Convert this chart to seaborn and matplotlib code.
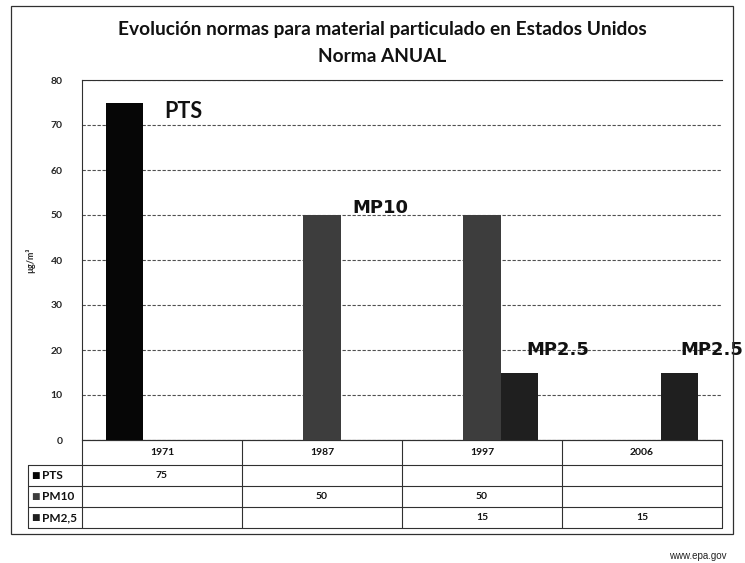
import matplotlib
matplotlib.use("Agg")
import matplotlib.pyplot as plt
from matplotlib.patches import Rectangle
from matplotlib.lines import Line2D
import matplotlib.transforms as mtransforms
import pandas as pd
import seaborn as sns

# Annual particulate-matter standards (µg/m³) in the United States
years = ["1971", "1987", "1997", "2006"]
series = ["PTS", "PM10", "PM2,5"]
pts_values = [75, None, None, None]
pm10_values = [None, 50, 50, None]
pm25_values = [None, None, 15, 15]
bar_labels = ["PTS", "MP10", "MP2.5", "MP2.5"]
y_ticks = [0, 10, 20, 30, 40, 50, 60, 70, 80]

values_by_series = {"PTS": pts_values, "PM10": pm10_values, "PM2,5": pm25_values}
rows = []
for name in series:
    for yr, v in zip(years, values_by_series[name]):
        if v is not None:
            rows.append({"year": yr, "series": name, "value": v})
df = pd.DataFrame(rows)

sns.set_style("white")
plt.rcParams["font.family"] = ["Lato", "DejaVu Sans"]

palette = {"PTS": "#060606", "PM10": "#3d3d3d", "PM2,5": "#1f1f1f"}
line_col = "#303030"

W, H = 745, 563
fig = plt.figure(figsize=(W / 100, H / 100), dpi=100)
fig.patch.set_facecolor("white")

ax_l, ax_r, ax_t, ax_b = 82, 722, 80, 440
ax = fig.add_axes([ax_l / W, 1 - ax_b / H, (ax_r - ax_l) / W, (ax_b - ax_t) / H])

sns.barplot(data=df, x="year", y="value", hue="series", order=years,
            hue_order=series, palette=palette, width=0.7, gap=0,
            dodge=True, saturation=1, errorbar=None, legend=False,
            edgecolor="none", ax=ax, zorder=3)

ax.set_xlim(-0.5, len(years) - 0.5)
ax.set_ylim(0, 80)
ax.set_yticks(y_ticks)
ax.set_yticklabels([str(t) for t in y_ticks], fontsize=7.5, fontweight="bold")
ax.tick_params(axis="y", length=0, pad=14)
ax.set_xticks([])
ax.set_xlabel("")
ax.set_ylabel("µg/m³", fontsize=6.5, fontweight="bold")
ax.yaxis.set_label_coords((35 - ax_l) / (ax_r - ax_l), 0.5)

ax.yaxis.grid(True, color="#505050", linestyle=(0, (3, 1.5)), linewidth=0.8, zorder=0)
ax.spines["right"].set_visible(False)
for side in ["left", "top", "bottom"]:
    ax.spines[side].set_color(line_col)
    ax.spines[side].set_linewidth(0.8)

# Series name beside each bar top
label_pos = [(0, 75, 0.015, -2.1), (1, 50, 0.19, 1.6), (2, 15, 0.275, 5.0), (3, 15, 0.2375, 5.0)]
label_fonts = [["Lato", "DejaVu Sans"]] + [["DejaVu Sans"]] * 3
label_sizes = [15.5, 13, 13, 13]
for (ci, val, dx, dy), txt, fam, fs in zip(label_pos, bar_labels, label_fonts, label_sizes):
    ax.text(ci + dx, val + dy, txt, ha="left", va="center", fontsize=fs,
            fontweight="bold", family=fam, color="#111111", zorder=5, clip_on=False)

# Data table under the axis: x in category units, y in pixels below the axis
def px_to_axes_y(py):
    return (ax_b - py) / (ax_b - ax_t)

trans = mtransforms.blended_transform_factory(ax.transData, ax.transAxes)
row_edges = [440, 465, 486, 507, 528]
x_edges = [i - 0.5 for i in range(len(years) + 1)]
label_left = ax.get_xlim()[0] - (ax_l - 28) / ((ax_r - ax_l) / len(years))

def hline(x0, x1, py):
    ax.add_line(Line2D([x0, x1], [px_to_axes_y(py)] * 2, transform=trans,
                       color=line_col, linewidth=0.8, clip_on=False))

def vline(x, py0, py1):
    ax.add_line(Line2D([x, x], [px_to_axes_y(py0), px_to_axes_y(py1)], transform=trans,
                       color=line_col, linewidth=0.8, clip_on=False))

for i, py in enumerate(row_edges):
    hline(label_left if i >= 1 else x_edges[0], x_edges[-1], py)
for x in x_edges:
    vline(x, row_edges[0], row_edges[-1])
vline(label_left, row_edges[1], row_edges[-1])

for i, yr in enumerate(years):
    yc = px_to_axes_y((row_edges[0] + row_edges[1]) / 2)
    ax.text(i, yc, yr, transform=trans, ha="center", va="center",
            fontsize=7.5, fontweight="bold", color="#111111", clip_on=False)

for r, name in enumerate(series):
    yc = px_to_axes_y((row_edges[r + 1] + row_edges[r + 2]) / 2)
    ax.text(label_left + 0.02, yc, "■", transform=trans, ha="left", va="center",
            fontsize=6.5, family=["DejaVu Sans"], color=palette[name], clip_on=False)
    ax.text(label_left + 0.09, yc, name, transform=trans, ha="left", va="center",
            fontsize=8.5, fontweight="bold", color="#111111", clip_on=False)
    for i, v in enumerate(values_by_series[name]):
        if v is not None:
            ax.text(i, yc, str(v), transform=trans, ha="center", va="center",
                    fontsize=7.5, fontweight="bold", color="#111111", clip_on=False)

# Titles
fig.text(382 / W, 1 - 30 / H, "Evolución normas para material particulado en Estados Unidos",
         ha="center", va="center", fontsize=13.8, fontweight="bold", color="#111111")
fig.text(382 / W, 1 - 56 / H, "Norma ANUAL", ha="center", va="center",
         fontsize=13.8, fontweight="bold", color="#111111")

# Outer chart frame
fig.add_artist(Rectangle((11 / W, 1 - 534 / H), (733 - 11) / W, (534 - 6) / H,
                         transform=fig.transFigure, fill=False,
                         edgecolor=line_col, linewidth=0.9))

fig.text(727 / W, 1 - 556 / H, "www.epa.gov", ha="right", va="center",
         fontsize=7, family=["Liberation Sans", "DejaVu Sans"], color="#222222")

fig.savefig("out.png", dpi=100, facecolor="white")
